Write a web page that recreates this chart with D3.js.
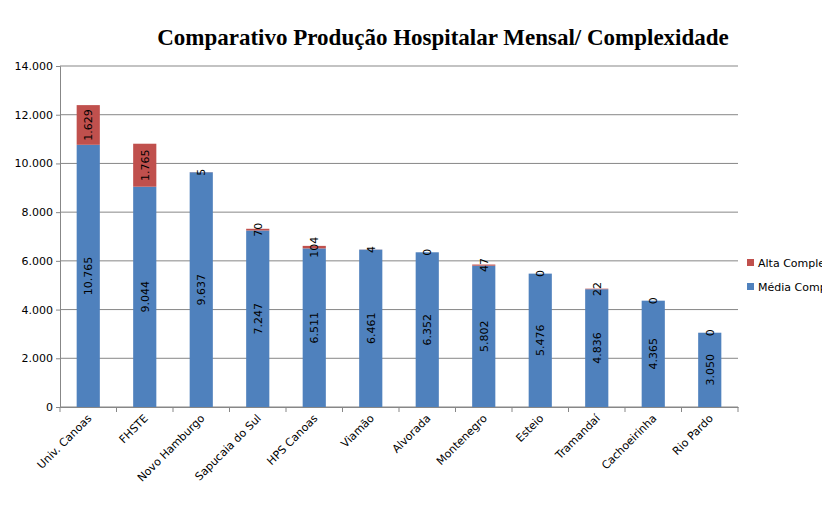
<!DOCTYPE html>
<html><head><meta charset="utf-8">
<script src="https://cdn.jsdelivr.net/npm/d3@7"></script>
<style>body{margin:0;background:#fff;overflow:hidden}text{font-family:"DejaVu Sans",sans-serif}</style>
</head><body>
<script>
let categories = ['Univ. Canoas','FHSTE','Novo Hamburgo','Sapucaia do Sul','HPS Canoas','Viamão','Alvorada','Montenegro','Esteio','Tramandaí','Cachoeirinha','Rio Pardo']
let media = [10765, 9044, 9637, 7247, 6511, 6461, 6352, 5802, 5476, 4836, 4365, 3050]
let alta = [1629, 1765, 5, 70, 104, 4, 0, 47, 0, 22, 0, 0]
let yTicks = [0, 2000, 4000, 6000, 8000, 10000, 12000, 14000]

let width = 822, height = 512
let plotLeft = 60, plotRight = 738, plotTop = 66, plotBottom = 407

let svg = d3.select("body").append("svg").attr("width", width).attr("height", height)

let x = d3.scaleBand().domain(categories).range([plotLeft, plotRight]).paddingInner(0.59).paddingOuter(0.295)
let y = d3.scaleLinear().domain([0, 14000]).range([plotBottom, plotTop])
let fmt = v => d3.format(",")(v).replace(/,/g, ".")

svg.append("text").attr("x", 443).attr("y", 45).attr("text-anchor", "middle")
    .style("font-family", "'Liberation Serif',serif").style("font-weight", "bold").style("font-size", "23px")
    .text("Comparativo  Produção Hospitalar Mensal/ Complexidade")

svg.append("g").selectAll("line").data(yTicks).enter().append("line")
    .attr("x1", plotLeft).attr("x2", plotRight).attr("y1", d => y(d)).attr("y2", d => y(d))
    .attr("stroke", "#878787").attr("stroke-width", 1)

let yAxis = svg.append("g").attr("transform", "translate(" + plotLeft + ",0)")
    .call(d3.axisLeft(y).tickValues(yTicks).tickFormat(fmt).tickSize(4))
yAxis.select(".domain").attr("stroke", "#878787")
yAxis.selectAll("line").attr("stroke", "#878787")
yAxis.selectAll("text").style("font-size", "11px").attr("fill", "#000")

let xAxis = svg.append("g").attr("transform", "translate(0," + plotBottom + ")")
    .call(d3.axisBottom(x).tickSize(0).tickFormat(""))
xAxis.select(".domain").attr("stroke", "#878787")
let step = x.step()
svg.append("g").selectAll("line").data(d3.range(categories.length + 1)).enter().append("line")
    .attr("x1", i => plotLeft + i * step).attr("x2", i => plotLeft + i * step)
    .attr("y1", plotBottom).attr("y2", plotBottom + 5).attr("stroke", "#878787")

svg.append("g").selectAll("text").data(categories).enter().append("text")
    .attr("transform", d => "translate(" + (x(d) + x.bandwidth() / 2 + 4) + "," + (plotBottom + 12) + ") rotate(-45)")
    .attr("text-anchor", "end").style("font-size", "11px").text(d => d)

let g = svg.append("g")
g.selectAll("rect.m").data(categories).enter().append("rect")
    .attr("x", d => x(d)).attr("width", x.bandwidth())
    .attr("y", (d, i) => y(media[i])).attr("height", (d, i) => y(0) - y(media[i]))
    .attr("fill", "#4f81bd")
g.selectAll("rect.a").data(categories).enter().append("rect")
    .attr("x", d => x(d)).attr("width", x.bandwidth())
    .attr("y", (d, i) => y(media[i] + alta[i])).attr("height", (d, i) => y(media[i]) - y(media[i] + alta[i]))
    .attr("fill", "#c0504d")

function label(vals, base) {
    g.selectAll(null).data(categories).enter().append("text")
        .attr("transform", (d, i) => {
            let mid = y(base[i] + vals[i] / 2)
            return "translate(" + (x(d) + x.bandwidth() / 2 + 4) + "," + mid + ") rotate(-90)"
        })
        .attr("text-anchor", "middle").style("font-size", "11px").text((d, i) => fmt(vals[i]))
}
label(media, media.map(() => 0))
label(alta, media)

let legend = [["Alta Complexidade", "#c0504d", 263], ["Média Complexidade", "#4f81bd", 287]]
legend.forEach(l => {
    svg.append("rect").attr("x", 747).attr("y", l[2] - 4).attr("width", 7).attr("height", 7).attr("fill", l[1])
    svg.append("text").attr("x", 758).attr("y", l[2] + 4).style("font-size", "11px").text(l[0])
})
</script>
</body></html>
